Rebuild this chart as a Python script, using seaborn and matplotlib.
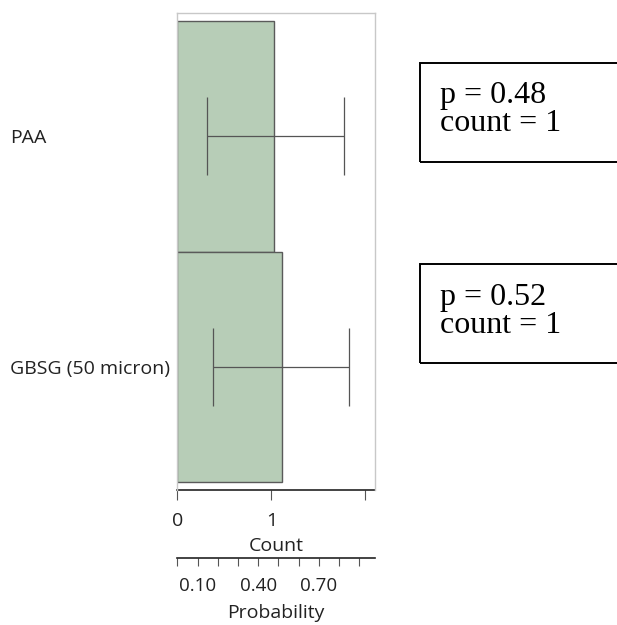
import matplotlib
matplotlib.use("Agg")
import matplotlib.pyplot as plt
from matplotlib.patches import Rectangle
import seaborn as sns
import pandas as pd

# ---- data ----
groups = ["PAA", "GBSG (50 micron)"]
probabilities = [0.48, 0.52]
counts = [1, 1]
ci_lower = [0.146, 0.175]
ci_upper = [0.825, 0.850]

count_ticks = [0, 1, 2]
count_tick_labels = ["0", "1", ""]
prob_ticks = [0.0, 0.1, 0.2, 0.3, 0.4, 0.5, 0.6, 0.7, 0.8, 0.9]
prob_tick_labels = ["", "0.10", "", "", "0.40", "", "", "0.70", "", ""]
COUNT_UNIT = 0.465  # probability width of one count on the scale

sns.set_theme(style="white")
plt.rcParams["font.family"] = ["Open Sans", "DejaVu Sans"]

df = pd.DataFrame({"group": groups, "prob": probabilities})

W, H = 617, 625
fig = plt.figure(figsize=(W / 100, H / 100), dpi=100)
fig.patch.set_facecolor("white")

ax = fig.add_axes([177 / W, 1 - 490 / H, (375 - 177) / W, 477 / H])

sns.barplot(data=df, x="prob", y="group", orient="h", color="#b7cdb7",
            saturation=1, edgecolor="#5a5a5a", linewidth=1.0, width=1.0,
            errorbar=None, ax=ax)

xerr = [[p - lo for p, lo in zip(probabilities, ci_lower)],
        [hi - p for p, hi in zip(probabilities, ci_upper)]]
ax.errorbar(x=probabilities, y=list(range(len(groups))), xerr=xerr, fmt="none",
            ecolor="#555555", elinewidth=0.9, capsize=28, capthick=0.9)

ax.set_ylim(1.5 + 0.035, -0.5 - 0.035)
ax.set_xlim(-0.0015, 0.978)
ax.set_xticks([])
ax.set_xlabel("")
ax.set_ylabel("")
for s in ["top", "right", "left"]:
    ax.spines[s].set_color("#c8c8c8")
    ax.spines[s].set_linewidth(1.0)
ax.spines["bottom"].set_visible(False)

ax.tick_params(axis="y", length=0, pad=120, labelsize=14, labelcolor="#222222")
for t in ax.get_yticklabels():
    t.set_ha("left")

# Count axis
sec = ax.secondary_xaxis("bottom", functions=(lambda p: p / COUNT_UNIT,
                                              lambda c: c * COUNT_UNIT))
sec.set_xticks(count_ticks, labels=count_tick_labels)
sec.spines["bottom"].set_color("#222222")
sec.spines["bottom"].set_linewidth(1.2)
sec.tick_params(axis="x", length=7, width=0.8, color="#555555", labelsize=14,
                labelcolor="#222222", pad=9)
sec.set_xlabel("Count", fontsize=14, color="#222222", labelpad=5)

# Probability axis
sec2 = ax.secondary_xaxis(-(558 - 490) / 477)
sec2.set_xticks(prob_ticks, labels=prob_tick_labels)
sec2.spines["bottom"].set_color("#222222")
sec2.spines["bottom"].set_linewidth(1.2)
sec2.tick_params(axis="x", length=6, width=0.8, color="#555555", labelsize=13.5,
                 labelcolor="#222222", pad=8)
sec2.set_xlabel("Probability", fontsize=14, color="#222222", labelpad=6)

# annotation boxes
boxes = [(63, 162), (264, 363)]
baselines = [(103, 131), (305, 333)]
for (top, bottom), (b1, b2), p, c in zip(boxes, baselines, probabilities, counts):
    fig.add_artist(Rectangle((420 / W, 1 - bottom / H), 220 / W, (bottom - top) / H,
                             transform=fig.transFigure, fill=False,
                             edgecolor="black", linewidth=1.4))
    for yb, line in ((b1, f"p = {p:.2f}"), (b2, f"count = {c}")):
        fig.text(440 / W, 1 - yb / H, line, ha="left", va="baseline",
                 family="Liberation Serif", fontsize=23, color="black")

fig.savefig("out.png", dpi=100)
